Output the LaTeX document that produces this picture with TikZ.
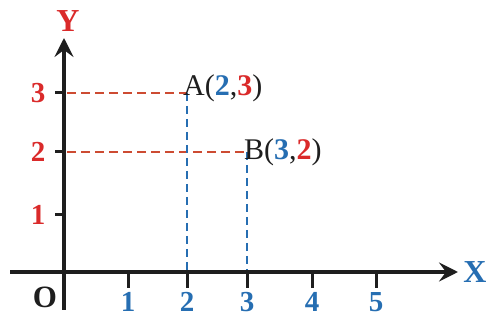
\documentclass[tikz,border=0pt]{standalone}
\usepackage{fontspec}
\setmainfont{Liberation Serif}
\usetikzlibrary{arrows.meta}
\definecolor{tred}{RGB}{218,42,42}
\definecolor{lred}{RGB}{205,75,50}
\definecolor{tblue}{RGB}{38,110,178}
\definecolor{axk}{RGB}{30,30,30}
\tikzset{
  axis/.style={draw=axk, line width=4pt},
  tick/.style={draw=axk, line width=3pt},
  hdash/.style={draw=lred, line width=2.6pt, dash pattern=on 9pt off 5pt},
  vdash/.style={draw=tblue, line width=1.5pt, dash pattern=on 8pt off 5pt},
  xlab/.style={text=tblue, font=\fontsize{29}{29}\selectfont\bfseries, inner sep=0pt},
  ylab/.style={text=tred, font=\fontsize{29}{29}\selectfont\bfseries, inner sep=0pt},
  ptlab/.style={text=axk, font=\fontsize{30}{30}\selectfont, inner sep=0pt, anchor=west},
}
\begin{document}
\begin{tikzpicture}[x=1pt,y=-1pt]
\useasboundingbox (0,0) rectangle (491,323);
% origin and axes ends
\coordinate (O) at (64,272);
\coordinate (xs) at (10,272);
\coordinate (xe) at (458,272);
\coordinate (ys) at (64,310);
\coordinate (ye) at (64,38);
% ticks
\foreach \n/\x in {1/128,2/187,3/247,4/312,5/376}{
  \coordinate (xt\n) at (\x,272);
  \coordinate (xb\n) at (\x,288);
  \draw[tick] (xt\n) -- (xb\n);
  \node[xlab] (xl\n) at (\x,302) {\n};
}
\foreach \n/\y in {1/215,2/152,3/93}{
  \coordinate (yt\n) at (64,\y);
  \coordinate (yb\n) at (55,\y);
  \draw[tick] (yt\n) -- (yb\n);
  \node[ylab] (yl\n) at (38,\y) {\n};
}
% points
\coordinate (A) at (187,93);
\coordinate (B) at (247,152);
\coordinate (Ay) at (67,93);
\coordinate (By) at (67,152);
\coordinate (Ax) at (187,272);
\coordinate (Bx) at (247,272);
\draw[hdash] (Ay) -- (A);
\draw[hdash] (By) -- (B);
\draw[vdash] (A) -- (Ax);
\draw[vdash] (B) -- (Bx);
% axes
\draw[axis, -{Stealth[length=19pt,width=19pt,inset=7pt]}] (xs) -- (xe);
\draw[axis, -{Stealth[length=19pt,width=19pt,inset=7pt]}] (ys) -- (ye);
% labels
\node[text=tblue, font=\fontsize{32}{32}\selectfont\bfseries, inner sep=0pt] (X) at (475,272) {X};
\node[text=tred, font=\fontsize{32}{32}\selectfont\bfseries, inner sep=0pt] (Y) at (68,21) {Y};
\node[text=axk, font=\fontsize{31}{31}\selectfont\bfseries, inner sep=0pt] (Olab) at (45,297) {O};
\node[ptlab] (Alab) at (183,88) {A(\textcolor{tblue}{\bfseries 2},\textcolor{tred}{\bfseries 3})};
\node[ptlab] (Blab) at (244,152) {B(\textcolor{tblue}{\bfseries 3},\textcolor{tred}{\bfseries 2})};
\end{tikzpicture}
\end{document}
